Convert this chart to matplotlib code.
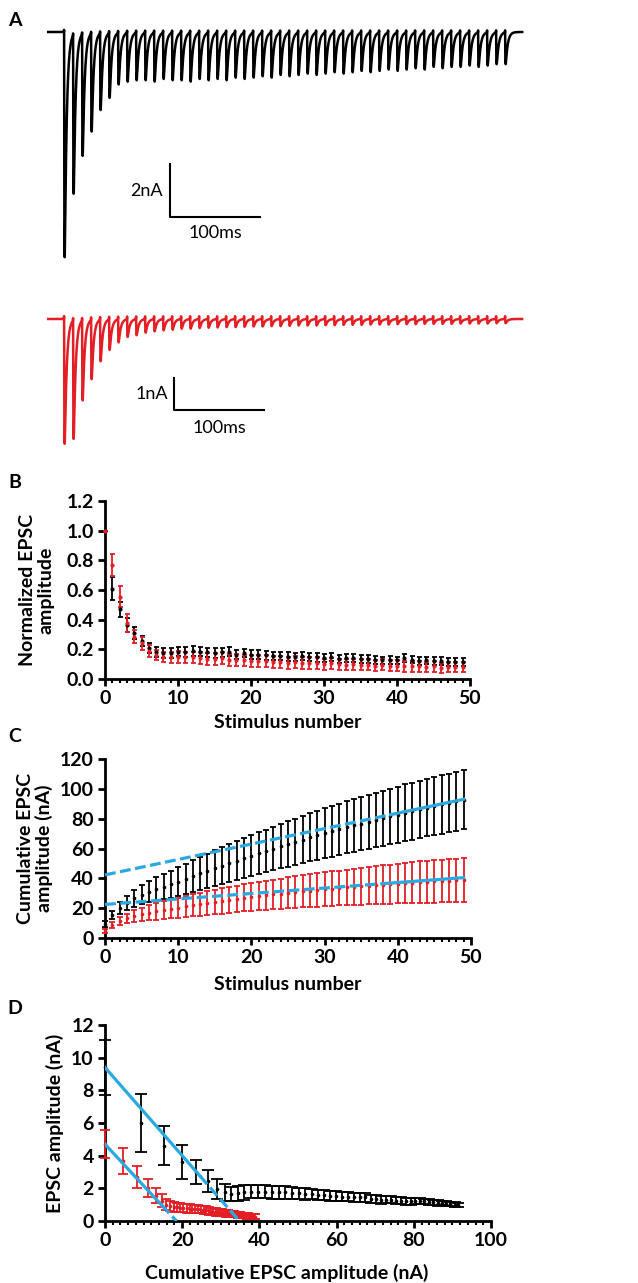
import numpy as np
import matplotlib
matplotlib.use('Agg')
import matplotlib.pyplot as plt
from matplotlib.ticker import MultipleLocator, FormatStrFormatter

plt.rcParams['font.family'] = ['Lato', 'DejaVu Sans']
plt.rcParams['font.weight'] = 'bold'
plt.rcParams['axes.labelweight'] = 'bold'

RED = '#e31e25'
BLUE = '#2aa8e0'
W, H = 638, 1283
FS = 14

# --- A: example traces, peak EPSC per stimulus (nA), 100 Hz train
trace_black_amp = [8.5, 6.0, 4.6, 3.7, 2.9, 2.45, 1.95, 1.85, 1.8, 1.8,
                   1.85, 1.75, 1.8, 1.8, 1.85, 1.75, 1.8, 1.75, 1.8, 1.7,
                   1.75, 1.7, 1.65, 1.7, 1.6, 1.65, 1.6, 1.55, 1.6, 1.55,
                   1.5, 1.55, 1.5, 1.45, 1.5, 1.45, 1.4, 1.45, 1.4, 1.35,
                   1.4, 1.3, 1.35, 1.3, 1.3, 1.25, 1.3, 1.25, 1.2, 1.2]
trace_red_amp = [3.9, 3.7, 2.5, 1.85, 1.3, 0.95, 0.72, 0.55, 0.5, 0.42,
                 0.38, 0.35, 0.33, 0.3, 0.3, 0.28, 0.27, 0.26, 0.25, 0.25,
                 0.24, 0.23, 0.23, 0.22, 0.22, 0.21, 0.2, 0.2, 0.2, 0.19,
                 0.19, 0.18, 0.18, 0.18, 0.17, 0.17, 0.17, 0.16, 0.16, 0.16,
                 0.15, 0.15, 0.15, 0.15, 0.14, 0.14, 0.14, 0.14, 0.13, 0.13]
isi_ms = 10.0
first_stim_ms = 19.0
trace_len_ms = 528.0

# --- B: normalized EPSC amplitude
stim = np.arange(50)
norm_black = [1.00, 0.61, 0.47, 0.365, 0.31, 0.255, 0.21, 0.18, 0.175, 0.175,
              0.185, 0.18, 0.19, 0.185, 0.18, 0.175, 0.18, 0.185, 0.165, 0.175,
              0.165, 0.165, 0.16, 0.155, 0.155, 0.15, 0.15, 0.155, 0.15, 0.145,
              0.14, 0.145, 0.135, 0.14, 0.14, 0.135, 0.135, 0.13, 0.125, 0.13,
              0.125, 0.14, 0.13, 0.12, 0.125, 0.12, 0.12, 0.115, 0.115, 0.115]
norm_black_err = [0.0, 0.08, 0.05, 0.045, 0.04, 0.035, 0.035, 0.033, 0.032, 0.032,
                  0.033, 0.033, 0.034, 0.033, 0.032, 0.032, 0.032, 0.032, 0.03, 0.03,
                  0.03, 0.03, 0.03, 0.03, 0.03, 0.03, 0.028, 0.028, 0.028, 0.028,
                  0.028, 0.027, 0.027, 0.027, 0.027, 0.027, 0.026, 0.026, 0.026, 0.026,
                  0.026, 0.026, 0.025, 0.025, 0.025, 0.025, 0.025, 0.025, 0.025, 0.025]
norm_red = [1.00, 0.77, 0.555, 0.38, 0.285, 0.24, 0.19, 0.16, 0.15, 0.145,
            0.15, 0.145, 0.145, 0.14, 0.135, 0.135, 0.14, 0.13, 0.13, 0.125,
            0.12, 0.12, 0.12, 0.115, 0.115, 0.11, 0.115, 0.11, 0.105, 0.105,
            0.10, 0.105, 0.10, 0.095, 0.10, 0.095, 0.095, 0.09, 0.095, 0.09,
            0.09, 0.085, 0.085, 0.085, 0.08, 0.085, 0.075, 0.08, 0.08, 0.08]
norm_red_err = [0.0, 0.075, 0.07, 0.06, 0.045, 0.045, 0.04, 0.035, 0.035, 0.04,
                0.04, 0.04, 0.04, 0.04, 0.04, 0.04, 0.04, 0.04, 0.04, 0.04,
                0.04, 0.04, 0.04, 0.04, 0.04, 0.04, 0.04, 0.04, 0.04, 0.04,
                0.037, 0.037, 0.037, 0.037, 0.037, 0.037, 0.037, 0.037, 0.037, 0.037,
                0.035, 0.035, 0.035, 0.035, 0.035, 0.035, 0.035, 0.035, 0.035, 0.035]

# --- D: mean EPSC amplitude (nA); C is the running sum of these
amp_black = [9.4, 6.0, 4.6, 3.6, 3.0, 2.45, 1.95, 1.75, 1.65, 1.7,
             1.75, 1.8, 1.8, 1.8, 1.75, 1.75, 1.75, 1.7, 1.7, 1.65,
             1.65, 1.6, 1.6, 1.55, 1.55, 1.5, 1.5, 1.45, 1.45, 1.45,
             1.35, 1.35, 1.3, 1.3, 1.3, 1.25, 1.25, 1.2, 1.2, 1.2,
             1.2, 1.2, 1.15, 1.15, 1.1, 1.1, 1.05, 1.05, 1.0, 1.0]
amp_black_err = [1.7, 1.75, 1.2, 1.05, 0.75, 0.65, 0.6, 0.5, 0.45, 0.45,
                 0.45, 0.42, 0.42, 0.4, 0.4, 0.38, 0.38, 0.36, 0.35, 0.34,
                 0.33, 0.32, 0.31, 0.3, 0.3, 0.29, 0.28, 0.27, 0.26, 0.26,
                 0.25, 0.24, 0.23, 0.22, 0.22, 0.21, 0.2, 0.2, 0.19, 0.18,
                 0.18, 0.17, 0.17, 0.16, 0.16, 0.15, 0.15, 0.14, 0.14, 0.13]
amp_red = [4.7, 3.7, 2.7, 2.0, 1.55, 1.25, 1.0, 0.9, 0.85, 0.85,
           0.82, 0.8, 0.78, 0.76, 0.75, 0.72, 0.72, 0.7, 0.68, 0.66,
           0.61, 0.59, 0.57, 0.55, 0.54, 0.52, 0.51, 0.49, 0.47, 0.47,
           0.45, 0.44, 0.42, 0.41, 0.4, 0.39, 0.37, 0.37, 0.35, 0.34,
           0.33, 0.32, 0.31, 0.3, 0.29, 0.28, 0.27, 0.27, 0.26, 0.25]
amp_red_err = [0.85, 0.8, 0.65, 0.55, 0.45, 0.4, 0.35, 0.3, 0.3, 0.28,
               0.28, 0.27, 0.27, 0.26, 0.26, 0.25, 0.25, 0.24, 0.24, 0.23,
               0.23, 0.22, 0.22, 0.22, 0.21, 0.21, 0.2, 0.2, 0.2, 0.2,
               0.19, 0.19, 0.19, 0.18, 0.18, 0.18, 0.18, 0.17, 0.17, 0.17,
               0.17, 0.16, 0.16, 0.16, 0.16, 0.15, 0.15, 0.15, 0.15, 0.15]

# --- C: SEM of cumulative amplitude (nA)
cum_black_err = [2.0, 2.8, 3.8, 4.8, 5.6, 6.5, 7.2, 7.9, 8.5, 9.1,
                 9.7, 10.2, 10.7, 11.2, 11.6, 12.0, 12.4, 12.8, 13.1, 13.4,
                 13.7, 14.0, 14.3, 14.6, 14.9, 15.2, 15.5, 15.8, 16.1, 16.4,
                 16.7, 17.0, 17.2, 17.4, 17.6, 17.8, 18.0, 18.2, 18.4, 18.6,
                 18.8, 19.0, 19.1, 19.2, 19.3, 19.4, 19.5, 19.6, 19.7, 19.8]
cum_red_err = [1.2, 2.0, 2.7, 3.3, 3.9, 4.5, 5.0, 5.5, 6.0, 6.4,
               6.8, 7.1, 7.4, 7.7, 8.0, 8.3, 8.5, 8.7, 8.9, 9.1,
               9.3, 9.5, 9.7, 9.9, 10.1, 10.3, 10.5, 10.7, 10.9, 11.1,
               11.3, 11.5, 11.7, 11.9, 12.1, 12.3, 12.5, 12.7, 12.9, 13.1,
               13.3, 13.5, 13.7, 13.9, 14.1, 14.2, 14.3, 14.4, 14.5, 14.6]

# linear fits (slope, intercept) and fitted range
fitC_black = (1.035, 42.3)
fitC_red = (0.367, 22.5)
fitC_from = 39
fitD_black = (-0.27, 9.4)
fitD_red = (-0.254, 4.7)
fitD_black_to = 24.6
fitD_red_to = 14.7

cum_black = np.cumsum(amp_black)
cum_red = np.cumsum(amp_red)
prev_black = np.concatenate([[0], cum_black[:-1]])
prev_red = np.concatenate([[0], cum_red[:-1]])

fig = plt.figure(figsize=(W / 100, H / 100), dpi=100)


def px_axes(l, t, r, b):
    return fig.add_axes([l / W, 1 - b / H, (r - l) / W, (b - t) / H])


def make_trace(amps, art):
    t = np.arange(0, trace_len_ms, 0.05)
    cur = np.zeros_like(t)
    tr, td = 0.25, 2.2
    tpk = tr * td / (td - tr) * np.log(td / tr)
    k = np.exp(-tpk / td) - np.exp(-tpk / tr)
    for n, a in enumerate(amps):
        s = t - (first_stim_ms + n * isi_ms)
        m = s > 0
        cur[m] -= a * (np.exp(-s[m] / td) - np.exp(-s[m] / tr)) / k
        cur += art * np.exp(-(s / 0.15) ** 2)
    return t, cur


# ---- A traces
axA = px_axes(47, 15, 533, 275)
t, cur = make_trace(trace_black_amp, 0.08)
axA.plot(t, cur, color='black', lw=1.8)
axA.set_xlim(0, 540)
axA.set_ylim((32 - 275) / 26.5, (32 - 15) / 26.5)
axA.axis('off')
x0, y0 = (170 - 47) / 0.9, (32 - 217) / 26.5
axA.plot([x0, x0, x0 + 100], [y0 + 2, y0, y0], color='black', lw=1.5)
axA.text(x0 - 8, y0 + 1, '2nA', ha='right', va='center', fontsize=13, fontweight='normal')
axA.text(x0 + 50, y0 - 0.6, '100ms', ha='center', va='center', fontsize=13, fontweight='normal')

axA2 = px_axes(47, 300, 533, 460)
t, cur = make_trace(trace_red_amp, 0.09)
axA2.plot(t, cur, color=RED, lw=1.8)
axA2.set_xlim(0, 540)
axA2.set_ylim((319 - 460) / 32, (319 - 300) / 32)
axA2.axis('off')
x0, y0 = (174 - 47) / 0.9, (319 - 410) / 32
axA2.plot([x0, x0, x0 + 100], [y0 + 1, y0, y0], color='black', lw=1.5)
axA2.text(x0 - 7, y0 + 0.5, '1nA', ha='right', va='center', fontsize=13, fontweight='normal')
axA2.text(x0 + 50, y0 - 0.55, '100ms', ha='center', va='center', fontsize=13, fontweight='normal')


def style(ax, xmax, xmaj, xmin, ymax, ymaj):
    for s in ['top', 'right']:
        ax.spines[s].set_visible(False)
    for s in ['left', 'bottom']:
        ax.spines[s].set_linewidth(2)
    ax.set_xlim(0, xmax)
    ax.set_ylim(0, ymax)
    ax.xaxis.set_major_locator(MultipleLocator(xmaj))
    ax.xaxis.set_minor_locator(MultipleLocator(xmin))
    ax.yaxis.set_major_locator(MultipleLocator(ymaj))
    ax.tick_params(which='major', length=5, width=2, labelsize=FS, pad=3)
    ax.tick_params(which='minor', length=3, width=1.5)


def ebar(ax, x, y, e, color, cap, lw=1.3, ms=2):
    c = ax.errorbar(x, y, yerr=e, fmt='o', color=color, ms=ms, elinewidth=lw,
                    capsize=cap, capthick=lw, clip_on=False, zorder=3)
    for art in c.lines[1] + c.lines[2]:
        art.set_clip_on(False)
    c.lines[0].set_clip_on(False)


# ---- B
axB = px_axes(105, 501, 470, 679)
style(axB, 50, 10, 1, 1.2, 0.2)
axB.yaxis.set_major_formatter(FormatStrFormatter('%.1f'))
ebar(axB, stim, norm_black, norm_black_err, 'black', 1.8)
ebar(axB, stim, norm_red, norm_red_err, RED, 1.8)
axB.set_xlabel('Stimulus number', fontsize=FS)
axB.xaxis.set_label_coords(0.5, (679 - 723) / 178)
axB.xaxis.label.set_va('center')
axB.set_ylabel('Normalized EPSC\namplitude', fontsize=FS, linespacing=1.1)
axB.yaxis.set_label_coords((37 - 105) / 365, 0.5)
axB.yaxis.label.set_va('center')

# ---- C
axC = px_axes(105, 759, 471, 938)
style(axC, 50, 10, 1, 120, 20)
ebar(axC, stim, cum_black, cum_black_err, 'black', 2.2, ms=1.6)
ebar(axC, stim, cum_red, cum_red_err, RED, 2.2, ms=1.6)
for (sl, ic) in [fitC_black, fitC_red]:
    xd = np.array([0, fitC_from])
    xs = np.array([fitC_from, stim[-1]])
    axC.plot(xd, sl * xd + ic, color=BLUE, lw=2.3, dashes=(3.4, 1.4), zorder=4)
    axC.plot(xs, sl * xs + ic, color=BLUE, lw=2.3, zorder=4)
axC.set_xlabel('Stimulus number', fontsize=FS)
axC.xaxis.set_label_coords(0.5, (938 - 985) / 179)
axC.xaxis.label.set_va('center')
axC.set_ylabel('Cumulative EPSC\namplitude (nA)', fontsize=FS, linespacing=1.1)
axC.yaxis.set_label_coords((35 - 105) / 366, 0.5)
axC.yaxis.label.set_va('center')

# ---- D
axD = px_axes(105, 1025, 491, 1221)
style(axD, 100, 20, 2, 12, 2)
ebar(axD, prev_black, amp_black, amp_black_err, 'black', 4, ms=1.6)
ebar(axD, prev_red, amp_red, amp_red_err, RED, 3.5, ms=1.6)
for (sl, ic), xe in [(fitD_black, fitD_black_to), (fitD_red, fitD_red_to)]:
    x0d = -ic / sl
    axD.plot([0, xe], [ic, sl * xe + ic], color=BLUE, lw=2.3, zorder=4)
    axD.plot([xe, x0d], [sl * xe + ic, 0], color=BLUE, lw=2.3, dashes=(3.4, 1.4), zorder=4)
axD.set_xlabel('Cumulative EPSC amplitude (nA)', fontsize=FS)
axD.xaxis.set_label_coords((287 - 105) / 386, (1221 - 1273) / 196)
axD.xaxis.label.set_va('center')
axD.set_ylabel('EPSC amplitude (nA)', fontsize=FS)
axD.yaxis.set_label_coords((55 - 105) / 386, 0.5)
axD.yaxis.label.set_va('center')

for lab, y in [('A', 20), ('B', 482), ('C', 736), ('D', 1008)]:
    fig.text(15 / W, 1 - y / H, lab, ha='center', va='center', fontsize=FS, fontweight='bold')

fig.savefig('out.png', dpi=100)
